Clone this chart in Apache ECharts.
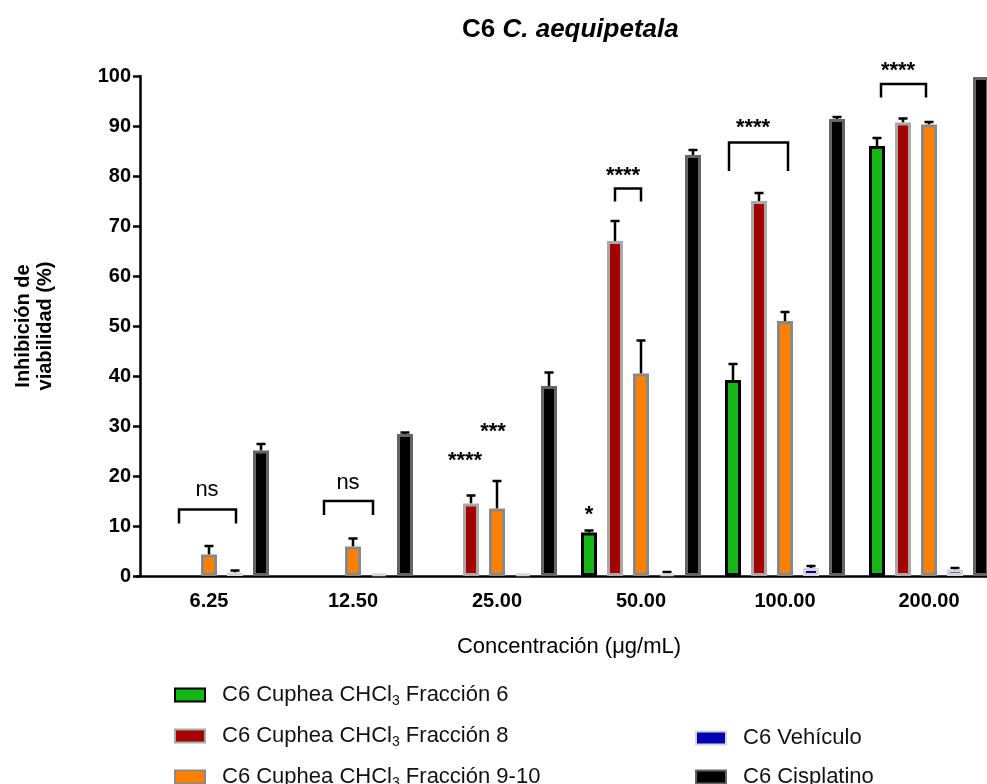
<!DOCTYPE html>
<html>
<head>
<meta charset="utf-8">
<title>C6 C. aequipetala</title>
<script src="https://cdn.jsdelivr.net/npm/echarts@6/dist/echarts.min.js"></script>
<style>
  html, body { margin: 0; padding: 0; background: #ffffff; }
  #chart { width: 987px; height: 784px; }
</style>
</head>
<body>
<div id="chart"></div>
<script>
// Concentrations tested (µg/mL)
const concentrations = ['6.25', '12.50', '25.00', '50.00', '100.00', '200.00'];

// Mean viability inhibition (%) per treatment; null = not plotted
const fraccion6   = [null, null, null, 8.7, 39.2, 86.0];
const fraccion8   = [null, null, 14.5, 67.0, 75.0, 90.7];
const fraccion910 = [4.3, 5.9, 13.5, 40.5, 51.0, 90.3];
const vehiculo    = [0.7, 0.5, 0.5, 0.5, 1.6, 1.3];
const cisplatino  = [25.1, 28.4, 38.0, 84.2, 91.4, 99.8];

// Standard error (upper whisker only)
const fraccion6Sem   = [null, null, null, 0.4, 3.2, 1.6];
const fraccion8Sem   = [null, null, 1.6, 4.0, 1.6, 0.8];
const fraccion910Sem = [1.7, 1.6, 5.5, 6.6, 1.8, 0.5];
const vehiculoSem    = [0.4, 0, 0, 0.3, 0.4, 0.3];
const cisplatinoSem  = [1.3, 0.3, 2.7, 1.0, 0.4, 0];

const seriesNames = [
  'C6 Cuphea CHCl3 Fracción 6',
  'C6 Cuphea CHCl3 Fracción 8',
  'C6 Cuphea CHCl3 Fracción 9-10',
  'C6 Vehículo',
  'C6 Cisplatino'
];

// Significance brackets and labels (y in axis units)
const brackets = [
  { cat: 0, from: -30, to: 27, top: 13.3, legs: 10.5, label: 'ns',   labelDx: -2,  labelY: 17.2 },
  { cat: 1, from: -29, to: 20, top: 15.0, legs: 12.2, label: 'ns',   labelDx: -5,  labelY: 18.6 },
  { cat: 3, from: -26, to: 0,  top: 77.5, legs: 74.9, label: '****', labelDx: -18, labelY: 80.5 },
  { cat: 4, from: -56, to: 3,  top: 86.7, legs: 81.0, label: '****', labelDx: -32, labelY: 90.0 },
  { cat: 5, from: -48, to: -3, top: 98.4, legs: 95.7, label: '****', labelDx: -31, labelY: 101.4 }
];
const starLabels = [
  { cat: 2, dx: -32, y: 23.5, label: '****' },
  { cat: 2, dx: -4,  y: 29.3, label: '***' },
  { cat: 3, dx: -52, y: 12.7, label: '*' }
];

const FONT = '"Liberation Sans", Arial, Helvetica, sans-serif';
const BAR_W = 16;
const SLOT = 26;       // centre-to-centre distance of bars inside a group
const CAP = 9;

const means = [fraccion6, fraccion8, fraccion910, vehiculo, cisplatino];
const sems = [fraccion6Sem, fraccion8Sem, fraccion910Sem, vehiculoSem, cisplatinoSem];
const styles = [
  { color: '#14b814', borderColor: '#000000' },
  { color: '#a30000', borderColor: '#a9a9a9' },
  { color: '#ff8000', borderColor: '#898989' },
  { color: '#0000b4', borderColor: '#d6d6d6' },
  { color: '#000000', borderColor: '#656565' }
];

const errorData = [];
means.forEach((arr, k) => {
  arr.forEach((m, c) => {
    const s = sems[k][c];
    if (m != null && s) errorData.push([c, m, m + s, k]);
  });
});

const barSeries = seriesNames.map((name, k) => ({
  name,
  type: 'bar',
  barWidth: BAR_W,
  barGap: ((SLOT - BAR_W) / BAR_W * 100) + '%',
  z: 2,
  data: means[k],
  itemStyle: { color: styles[k].color, borderColor: styles[k].borderColor, borderWidth: 3 }
}));

const errorSeries = {
  type: 'custom',
  silent: true,
  z: 1,
  renderItem(params, api) {
    const c = api.value(0), k = api.value(3);
    const p0 = api.coord([c, api.value(1)]);
    const p1 = api.coord([c, api.value(2)]);
    const x = p0[0] + (k - 2) * SLOT;
    const st = { stroke: '#000', lineWidth: 2.5 };
    return {
      type: 'group',
      children: [
        { type: 'line', shape: { x1: x, y1: p0[1], x2: x, y2: p1[1] }, style: st },
        { type: 'line', shape: { x1: x - CAP / 2, y1: p1[1], x2: x + CAP / 2, y2: p1[1] }, style: st }
      ]
    };
  },
  data: errorData
};

const legendText = {
  fontFamily: FONT,
  rich: {
    gap: { width: 12 },
    t: { fontSize: 22, fontFamily: FONT, color: '#111', lineHeight: 26 },
    s: { fontSize: 14, fontFamily: FONT, color: '#111', lineHeight: 12, verticalAlign: 'bottom' }
  }
};
const legendFormatter = (name) => {
  const parts = name.split('CHCl3');
  if (parts.length === 2) return '{gap|}{t|' + parts[0] + 'CHCl}{s|3}{t|' + parts[1] + '}';
  return '{gap|}{t|' + name + '}';
};

const chart = echarts.init(document.getElementById('chart'), null, { renderer: 'canvas' });

const legendBase = {
  orient: 'vertical',
  padding: 0,
  height: 200,
  itemWidth: 30, itemHeight: 13, itemGap: 17,
  icon: 'rect',
  selectedMode: false,
  formatter: legendFormatter,
  textStyle: legendText
};

chart.setOption({
  backgroundColor: '#ffffff',
  animation: false,
  title: {
    text: '{b|C6 }{bi|C. aequipetala}',
    left: 457,
    top: 12,
    textStyle: {
      rich: {
        b: { fontSize: 26, fontWeight: 'bold', fontFamily: FONT, color: '#000' },
        bi: { fontSize: 26, fontWeight: 'bold', fontStyle: 'italic', fontFamily: FONT, color: '#000' }
      }
    }
  },
  // The plot runs past the right edge of the canvas, so the last bar is cut
  grid: { left: 137, top: 76, right: -14, bottom: 208, containLabel: false, outerBoundsMode: 'none' },
  legend: [
    Object.assign({ data: seriesNames.slice(0, 3), left: 174, top: 684 }, legendBase),
    Object.assign({ data: seriesNames.slice(3), left: 695, top: 727 }, legendBase)
  ],
  xAxis: {
    type: 'category',
    data: concentrations,
    axisLine: { lineStyle: { color: '#000', width: 2.5 } },
    axisTick: { alignWithLabel: true, length: 7, lineStyle: { color: '#000', width: 2.5 } },
    axisLabel: { fontSize: 20, fontWeight: 'bold', color: '#000', fontFamily: FONT, margin: 15 },
    name: 'Concentración (μg/mL)',
    nameLocation: 'middle',
    nameGap: 60,
    nameTextStyle: { fontSize: 22, color: '#000', fontFamily: FONT }
  },
  yAxis: {
    type: 'value',
    min: 0, max: 100, interval: 10,
    offset: -3,
    axisLine: { show: true, lineStyle: { color: '#000', width: 2.5 } },
    axisTick: { show: true, length: 7, lineStyle: { color: '#000', width: 2.5 } },
    splitLine: { show: false },
    axisLabel: { fontSize: 20, fontWeight: 'bold', color: '#000', fontFamily: FONT, margin: 9 },
    name: 'Inhibición de\nviabilidad (%)',
    nameLocation: 'middle',
    nameGap: 84,
    nameTextStyle: { fontSize: 20, fontWeight: 'bold', color: '#000', fontFamily: FONT, lineHeight: 22 }
  },
  series: [...barSeries, errorSeries]
});

// Significance annotations placed through the axis scales
function buildAnnotations() {
  const toPx = (c, y) => chart.convertToPixel({ xAxisIndex: 0, yAxisIndex: 0 }, [c, y]);
  const els = [];
  const lineStyle = { stroke: '#000', lineWidth: 2.5, fill: null };
  brackets.forEach(b => {
    const pTop = toPx(b.cat, b.top);
    const pLeg = toPx(b.cat, b.legs);
    const x0 = pTop[0] + b.from, x1 = pTop[0] + b.to;
    els.push({
      type: 'polyline',
      shape: { points: [[x0, pLeg[1]], [x0, pTop[1]], [x1, pTop[1]], [x1, pLeg[1]]] },
      style: lineStyle
    });
    const pl = toPx(b.cat, b.labelY);
    const isStar = b.label.indexOf('*') === 0;
    els.push({
      type: 'text',
      x: pl[0] + b.labelDx,
      y: pl[1] + (isStar ? 2 : 0),
      style: {
        text: b.label, fill: '#000', fontFamily: FONT,
        fontSize: 22, fontWeight: isStar ? 'bold' : 'normal',
        align: 'center', verticalAlign: 'middle'
      }
    });
  });
  starLabels.forEach(s => {
    const p = toPx(s.cat, s.y);
    els.push({
      type: 'text',
      x: p[0] + s.dx,
      y: p[1] + 2,
      style: {
        text: s.label, fill: '#000', fontFamily: FONT, fontSize: 22, fontWeight: 'bold',
        align: 'center', verticalAlign: 'middle'
      }
    });
  });
  chart.setOption({ graphic: { elements: els } });
}
buildAnnotations();
</script>
</body>
</html>
